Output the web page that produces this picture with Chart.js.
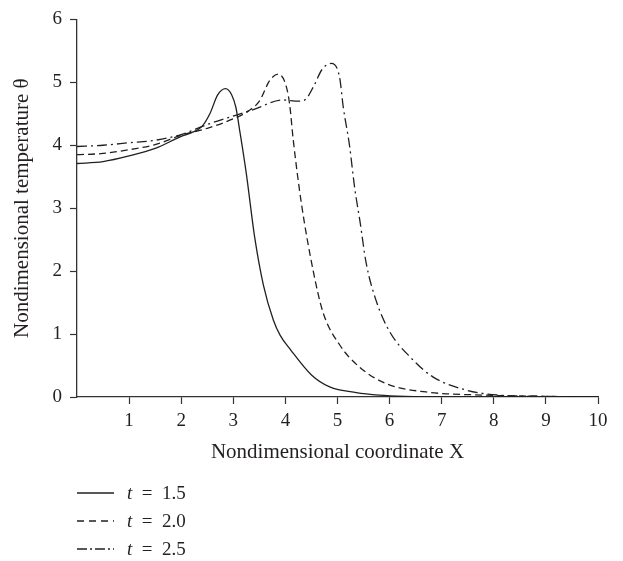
<!DOCTYPE html>
<html>
<head>
<meta charset="utf-8">
<script src="https://cdn.jsdelivr.net/npm/chart.js@4"></script>
<style>
  html, body { margin: 0; padding: 0; background: #fff; }
  #wrap { position: relative; width: 623px; height: 561px; }
  #legend {
    position: absolute; left: 77px; top: 479px;
    font-family: "Liberation Serif", "DejaVu Serif", serif;
    font-size: 19px; color: #231f20;
  }
  .row { display: flex; align-items: center; height: 28px; }
  .row svg { width: 37px; height: 6px; margin-right: 13px; }
</style>
</head>
<body>
<div id="wrap">
  <canvas id="c" width="623" height="561"></canvas>
  <div id="legend"></div>
</div>
<script>
// ── data ────────────────────────────────────────────────────
const xTicks = [0, 1, 2, 3, 4, 5, 6, 7, 8, 9, 10];
const yTicks = [0, 1, 2, 3, 4, 5, 6];

// t = 1.5 (solid)
const x15 = [0, 0.5, 1, 1.5, 2, 2.2, 2.4, 2.55, 2.7, 2.85, 2.97, 3.05, 3.12, 3.25, 3.41, 3.58, 3.77, 3.9, 4.1, 4.5, 4.85, 5.36, 5.8, 6.3, 7, 8, 9, 10];
const y15 = [3.71, 3.74, 3.83, 3.95, 4.14, 4.2, 4.3, 4.5, 4.8, 4.9, 4.8, 4.6, 4.25, 3.55, 2.54, 1.77, 1.22, 0.98, 0.75, 0.35, 0.16, 0.07, 0.03, 0.01, 0, 0, 0, 0];

// t = 2.0 (dashed)
const x20 = [0, 0.5, 1, 1.5, 2, 2.5, 3, 3.3, 3.5, 3.7, 3.86, 4.0, 4.08, 4.15, 4.31, 4.53, 4.72, 5.04, 5.43, 5.94, 6.7, 7.8, 9, 10];
const y20 = [3.85, 3.87, 3.93, 4.01, 4.16, 4.27, 4.42, 4.55, 4.7, 5.03, 5.13, 4.98, 4.66, 4.09, 3.06, 2.02, 1.35, 0.83, 0.47, 0.21, 0.08, 0.03, 0.01, 0];

// t = 2.5 (dash-dot)
const x25 = [0, 0.5, 1, 1.5, 2, 2.5, 3.06, 3.4, 3.95, 4.25, 4.4, 4.55, 4.7, 4.88, 5.04, 5.11, 5.23, 5.33, 5.43, 5.55, 5.75, 6.0, 6.4, 6.83, 7.47, 8.1, 9, 10];
const y25 = [3.98, 4.0, 4.04, 4.08, 4.17, 4.33, 4.48, 4.57, 4.72, 4.7, 4.74, 4.95, 5.2, 5.3, 5.08, 4.61, 4.0, 3.32, 2.8, 2.13, 1.51, 1.04, 0.63, 0.32, 0.11, 0.03, 0.01, 0];

const seriesLabels = ["t = 1.5", "t = 2.0", "t = 2.5"];
const dashes = [[], [7, 4], [10, 4, 2, 4]];
const legendDashes = ["", "7 5", "10 3 2 3"];

const INK = "#231f20";
const FONT = "'Liberation Serif', 'DejaVu Serif', serif";

const pts = (xs, ys) => xs.map((x, i) => ({ x, y: ys[i] }));

function lineSet(label, data, dash) {
  return {
    label,
    data,
    borderColor: INK,
    borderWidth: 1.3,
    borderDash: dash,
    pointRadius: 0,
    fill: false,
    cubicInterpolationMode: "monotone",
  };
}

new Chart(document.getElementById("c"), {
  type: "line",
  data: {
    datasets: [
      lineSet(seriesLabels[0], pts(x15, y15), dashes[0]),
      lineSet(seriesLabels[1], pts(x20, y20), dashes[1]),
      lineSet(seriesLabels[2], pts(x25, y25), dashes[2]),
    ],
  },
  options: {
    responsive: false,
    animation: false,
    layout: { padding: { left: 0, right: 25, top: 10, bottom: 94 } },
    plugins: { legend: { display: false }, tooltip: { enabled: false } },
    scales: {
      x: {
        type: "linear",
        min: 0,
        max: 10,
        afterFit: (s) => { s.height = 70; },
        afterBuildTicks: (s) => { s.ticks = xTicks.map((v) => ({ value: v })); },
        ticks: {
          color: INK,
          font: { family: FONT, size: 19 },
          padding: 6,
          maxRotation: 0,
          callback: (v) => (v === 0 ? "" : v),
        },
        grid: {
          drawOnChartArea: false,
          tickLength: 7,
          tickWidth: 1.2,
          color: (ctx) => (ctx.tick && ctx.tick.value === 0 ? "rgba(0,0,0,0)" : "#333"),
        },
        border: { color: "#333", width: 1.3 },
        title: {
          display: true,
          text: "Nondimensional coordinate X",
          color: INK,
          font: { family: FONT, size: 21 },
          padding: { top: 0, bottom: 2 },
        },
      },
      y: {
        type: "linear",
        min: 0,
        max: 6,
        afterFit: (s) => { s.width = 77; },
        afterBuildTicks: (s) => { s.ticks = yTicks.map((v) => ({ value: v })); },
        ticks: {
          color: INK,
          font: { family: FONT, size: 19 },
          padding: 8,
        },
        grid: { drawOnChartArea: false, tickLength: 7, tickWidth: 1.2, color: "#333" },
        border: { color: "#333", width: 1.3 },
        title: {
          display: true,
          text: "Nondimensional temperature θ",
          color: INK,
          font: { family: FONT, size: 21 },
          padding: { top: 10, bottom: 0 },
        },
      },
    },
  },
});

// legend below the plot, drawn as html so the italic t stays real text
const legendEl = document.getElementById("legend");
seriesLabels.forEach((lab, i) => {
  const row = document.createElement("div");
  row.className = "row";
  const [t, rest] = lab.split(" = ");
  row.innerHTML =
    `<svg viewBox="0 0 37 6"><line x1="0" y1="3" x2="37" y2="3" stroke="${INK}" stroke-width="1.3"` +
    (legendDashes[i] ? ` stroke-dasharray="${legendDashes[i]}"` : "") +
    `/></svg><span><i>${t}</i>&ensp;=&ensp;${rest}</span>`;
  legendEl.appendChild(row);
});
</script>
</body>
</html>
